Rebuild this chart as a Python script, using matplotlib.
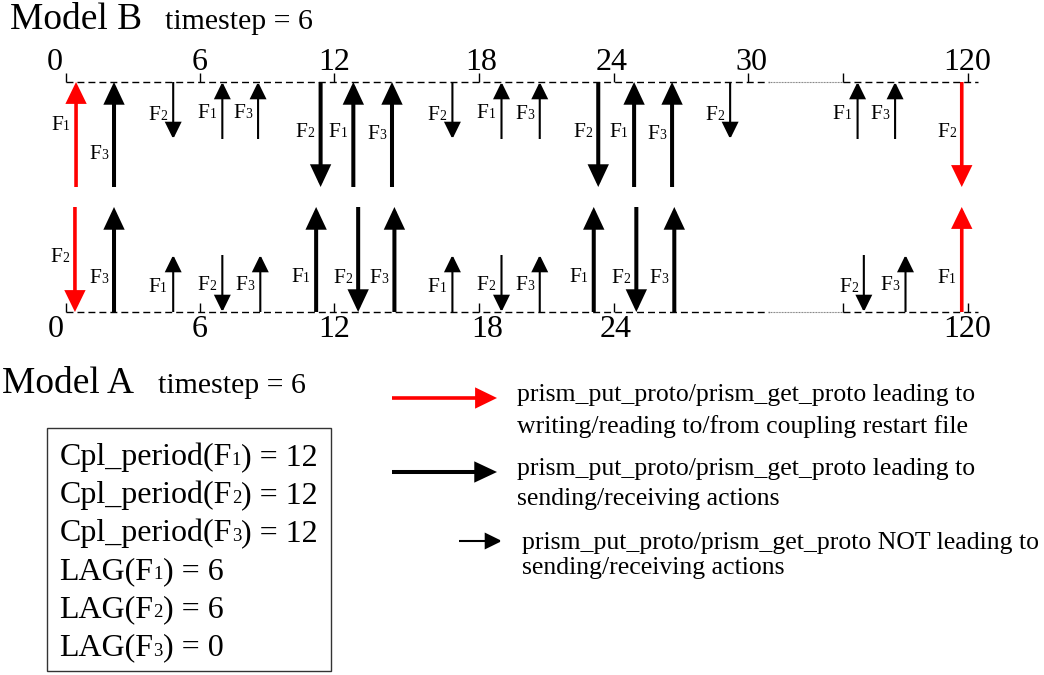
import numpy as np
import matplotlib
matplotlib.use("Agg")
import matplotlib.pyplot as plt
from matplotlib.patches import FancyArrowPatch, Rectangle, ArrowStyle

plt.rcParams['font.family'] = ['Liberation Serif', 'DejaVu Serif']

# ---------------- data ----------------
# time axis (model time, the axis is broken between 30 and 114)
top_ticks = [0, 6, 12, 18, 24, 30, 114, 120]
top_tick_labels = ['0', '6', '12', '18', '24', '30', '', '120']
bottom_ticks = [0, 6, 12, 18, 24, 114, 120]
bottom_tick_labels = ['0', '6', '12', '18', '24', '', '120']
axis_end = 120.5

# Model B (upper time line): time of each prism_put/get call, field, kind
b_times = [0.45, 2.15, 4.8, 7.0, 8.6, 11.4, 12.8, 14.4, 16.9, 19.0, 20.7,
           23.3, 24.9, 26.6, 29.2, 114.7, 116.5, 119.7]
b_fields = ['F1', 'F3', 'F2', 'F1', 'F3', 'F2', 'F1', 'F3', 'F2', 'F1', 'F3',
            'F2', 'F1', 'F3', 'F2', 'F1', 'F3', 'F2']
b_kinds = ['restart', 'send', 'none', 'none', 'none', 'send', 'send', 'send',
           'none', 'none', 'none', 'send', 'send', 'send', 'none', 'none',
           'none', 'restart']

# Model A (lower time line)
a_times = [0.4, 2.15, 4.8, 7.0, 8.7, 11.2, 13.0, 14.5, 16.9, 19.0, 20.7,
           23.1, 25.0, 26.7, 115.0, 117.0, 119.7]
a_fields = ['F2', 'F3', 'F1', 'F2', 'F3', 'F1', 'F2', 'F3', 'F1', 'F2', 'F3',
            'F1', 'F2', 'F3', 'F2', 'F3', 'F1']
a_kinds = ['restart', 'send', 'none', 'none', 'none', 'send', 'send', 'send',
           'none', 'none', 'none', 'send', 'send', 'send', 'none', 'none',
           'restart']

# arrow direction per field (F2 goes down, F1/F3 go up)
field_direction = {'F1': 'up', 'F2': 'down', 'F3': 'up'}

# Model A parameters
fields = ['F1', 'F2', 'F3']
cpl_period = [12, 12, 12]
lag = [6, 6, 0]
timestep_b = 6
timestep_a = 6

legend_texts = [
    ("prism_put_proto/prism_get_proto leading to",
     "writing/reading to/from coupling restart file"),
    ("prism_put_proto/prism_get_proto leading to",
     "sending/receiving actions"),
    ("prism_put_proto/prism_get_proto NOT leading to",
     "sending/receiving actions"),
]

# ---------------- layout ----------------
W, H = 1044, 675
# broken time axis: knots of the piecewise-linear scale (time -> pixel)
T_KNOTS = np.array([-3, 0, 6, 12, 18, 24, 30, 31, 114, 120, 126], float)
P_KNOTS = np.array([-1, 66, 200, 334, 479, 614, 748, 769, 843, 968, 1093], float)
DOT_START = 31


def fwd(t):
    return np.interp(t, T_KNOTS, P_KNOTS)


def inv(p):
    return np.interp(p, P_KNOTS, T_KNOTS)


Y_TOP, Y_BOT = 82, 312
LONG, SHORT = 105, 57
b_label_y = [123, 152, 113, 111, 111, 130, 130, 132, 113, 111, 112, 130,
             130, 132, 113, 112, 112, 130]
a_label_y = [255, 276, 285, 283, 283, 275, 276, 276, 285, 283, 283, 275,
             276, 276, 285, 283, 276]
top_lbl_dx = [-11, 0, 0, 2, -2, 3, 0, -1]
bot_lbl_dx = [-10, 0, 0, 8, 2, 0, -1]

styles = {
    'restart': dict(color='#ff0000', lw=2.6, hl=11.5, hw=5.6, long=True),
    'send': dict(color='black', lw=2.9, hl=11.5, hw=5.4, long=True),
    'none': dict(color='black', lw=1.5, hl=10.0, hw=4.9, long=False),
}

fig = plt.figure(figsize=(W / 100, H / 100), dpi=100)
ax = fig.add_axes([0, 0, 1, 1])
ax.set_xscale('function', functions=(fwd, inv))
ax.set_xlim(inv(0), inv(W))
ax.set_ylim(H, 0)
ax.axis('off')

tx = fig.add_axes([0, 0, 1, 1])
tx.set_xlim(0, W)
tx.set_ylim(H, 0)
tx.axis('off')
tx.patch.set_alpha(0)


def arrow(axes, p0, p1, st):
    a = FancyArrowPatch(p0, p1, arrowstyle=ArrowStyle('-|>', head_length=st['hl'],
                                                      head_width=st['hw']),
                        mutation_scale=1, shrinkA=0, shrinkB=0,
                        color=st['color'], lw=st['lw'], joinstyle='miter',
                        capstyle='butt')
    axes.add_patch(a)


def f_label(t, yc, field, size=15.5):
    base = yc + 7
    d = ax.annotate(field[1], xy=(t, base), xytext=(-6, 0),
                    textcoords='offset pixels', ha='right', va='baseline',
                    fontsize=size * 0.64)
    ax.annotate(field[0], xy=(0, base), xycoords=(d, 'data'), ha='right',
                va='baseline', fontsize=size)


def timeline(y0, ticks, labels, dxs, lbl_base):
    ax.plot([0, DOT_START], [y0, y0], color='black', lw=1.0,
            linestyle=(0, (5, 2.9)), solid_capstyle='butt')
    ax.plot([DOT_START, 114], [y0, y0], color='#777777', lw=0.8,
            linestyle=(0, (0.8, 0.6)))
    ax.plot([114, axis_end], [y0, y0], color='black', lw=1.0,
            linestyle=(0, (5, 2.9)))
    ax.vlines(ticks, y0 - 9, y0, color='black', lw=1.0)
    for t, lab, dx in zip(ticks, labels, dxs):
        if lab:
            ax.annotate(lab, xy=(t, lbl_base), xytext=(dx, 0),
                        textcoords='offset pixels', ha='center',
                        va='baseline', fontsize=23)


timeline(Y_TOP, top_ticks, top_tick_labels, top_lbl_dx, 70)
timeline(Y_BOT, bottom_ticks, bottom_tick_labels, bot_lbl_dx, 337)

for times, flds, kinds, ly, y0, sign in [
        (b_times, b_fields, b_kinds, b_label_y, Y_TOP, 1),
        (a_times, a_fields, a_kinds, a_label_y, Y_BOT, -1)]:
    for t, f, k, yl in zip(times, flds, kinds, ly):
        st = styles[k]
        L = LONG if st['long'] else SHORT
        far = y0 + sign * L
        if field_direction[f] == 'up':
            p0, p1 = (t, max(far, y0)), (t, min(far, y0))
        else:
            p0, p1 = (t, min(far, y0)), (t, max(far, y0))
        arrow(ax, p0, p1, st)
        f_label(t, yl, f)

# titles
tx.text(10, 29, 'Model B', fontsize=27, ha='left', va='baseline')
tx.text(165, 29, f'timestep = {timestep_b}', fontsize=21.5, ha='left', va='baseline')
tx.text(2, 393, 'Model A', fontsize=27, ha='left', va='baseline')
tx.text(158, 393, f'timestep = {timestep_a}', fontsize=21.5, ha='left', va='baseline')

# parameter box
tx.add_patch(Rectangle((46.7, 427.7), 284.3, 243.3, fill=False,
                       edgecolor='#333333', lw=1.0))
box_lines = ([('Cpl_period(F', f[1], f') = {v}') for f, v in zip(fields, cpl_period)] +
             [('LAG(F', f[1], f') = {v}') for f, v in zip(fields, lag)])
base = 465
for pre, dig, post in box_lines:
    t1 = tx.text(59.5, base, pre, fontsize=23, ha='left', va='baseline')
    t2 = tx.annotate(dig, xy=(1, base), xycoords=(t1, 'data'), fontsize=13.5,
                     ha='left', va='baseline')
    tx.annotate(post, xy=(1, base), xycoords=(t2, 'data'), fontsize=23,
                ha='left', va='baseline')
    base += 38.1

# legend
leg_arrows = [((392, 398), (497, 398), styles['restart']),
              ((392, 472), (497, 472), styles['send']),
              ((459, 541), (502, 541), styles['none'])]
for p0, p1, st in leg_arrows:
    arrow(tx, p0, p1, st)
leg_pos = [(517, 401.5, 432.5), (517, 475.5, 505.5), (522, 548.5, 574)]
for (l1, l2), (x, y1, y2) in zip(legend_texts, leg_pos):
    tx.text(x, y1, l1, fontsize=18.5, ha='left', va='baseline')
    tx.text(x, y2, l2, fontsize=18.5, ha='left', va='baseline')

fig.savefig('out.png', dpi=100)
